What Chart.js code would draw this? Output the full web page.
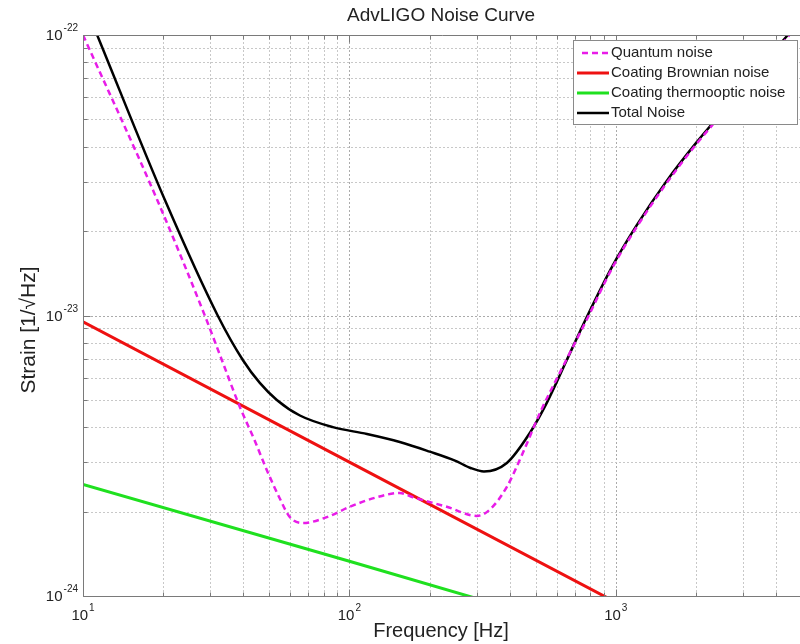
<!DOCTYPE html>
<html>
<head>
<meta charset="utf-8">
<title>AdvLIGO Noise Curve</title>
<script src="https://cdn.jsdelivr.net/npm/chart.js@4"></script>
<style>
  html, body { margin: 0; padding: 0; background: #fff; overflow: hidden; }
  #wrap { width: 810px; height: 644px; }
</style>
</head>
<body>
<div id="wrap"><canvas id="noise" width="810" height="644"></canvas></div>
<script>
// ---- Noise budget data (frequency in Hz, amplitude spectral density in 1/sqrt(Hz)) ----
const quantumFreq = [10, 19, 28.7, 33.2, 38.8, 44, 49.0, 54.5, 59.8, 66.9, 82.3, 100.4, 126.8, 154.6, 173, 232, 301, 336, 390, 448, 518.6, 632, 778.5, 974.6, 1199, 1553, 2013, 2350, 3184, 4381, 5000];
const quantumNoise = [1.0e-22, 2.58e-23, 9.96e-24, 6.94e-24, 4.72e-24, 3.6e-24, 2.81e-24, 2.25e-24, 1.91e-24, 1.82e-24, 1.91e-24, 2.08e-24, 2.25e-24, 2.33e-24, 2.25e-24, 2.08e-24, 1.93e-24, 2.03e-24, 2.45e-24, 3.24e-24, 4.49e-24, 6.55e-24, 9.68e-24, 1.49e-23, 2.07e-23, 2.97e-23, 4.1e-23, 4.88e-23, 6.84e-23, 9.74e-23, 1.13e-22];

const brownianFreq = [10, 100, 1000];
const brownianNoise = [9.5e-24, 3.0e-24, 0.95e-24];

const thermoFreq = [10, 100, 300];
const thermoNoise = [2.5e-24, 1.33e-24, 0.98e-24];

const totalFreq = [11.3, 20.3, 32.1, 39.8, 46.1, 53.4, 65.2, 86.7, 116.4, 154.6, 200.4, 249, 285, 320, 390, 475.6, 550.7, 654.8, 778.5, 974.6, 1199, 1553, 2013, 2350, 3184, 4381, 5000];
const totalNoise = [1.0e-22, 2.58e-23, 9.96e-24, 6.94e-24, 5.75e-24, 5.0e-24, 4.4e-24, 4.0e-24, 3.78e-24, 3.54e-24, 3.27e-24, 3.04e-24, 2.86e-24, 2.78e-24, 2.98e-24, 3.81e-24, 4.88e-24, 6.94e-24, 9.88e-24, 1.51e-23, 2.1e-23, 3.02e-23, 4.15e-23, 4.94e-23, 6.95e-23, 9.9e-23, 1.15e-22];

// ---- Axis ticks and labels ----
const freqTicks = [10, 20, 30, 40, 50, 60, 70, 80, 90, 100, 200, 300, 400, 500, 600, 700, 800, 900, 1000, 2000, 3000, 4000, 5000];
const freqMajor = [10, 100, 1000];
const freqLabelExps = ['1', '2', '3'];
const strainTicks = [1e-24, 2e-24, 3e-24, 4e-24, 5e-24, 6e-24, 7e-24, 8e-24, 9e-24,
                     1e-23, 2e-23, 3e-23, 4e-23, 5e-23, 6e-23, 7e-23, 8e-23, 9e-23, 1e-22];
const strainMajor = [1e-24, 1e-23, 1e-22];
const strainLabelExps = ['-24', '-23', '-22'];

const seriesNames = ['Quantum noise', 'Coating Brownian noise', 'Coating thermooptic noise', 'Total Noise'];
const titleText = 'AdvLIGO Noise Curve';
const xTitle = 'Frequency [Hz]';
const yTitle = 'Strain [1/\u221AHz]';

const toXY = (fs, vs) => fs.map((f, i) => ({ x: f, y: vs[i] }));

const FONT = '"Liberation Sans", Arial, Helvetica, sans-serif';
const TEXT = '#222';

// power-of-ten label: "10" with a raised exponent
function drawPow(ctx, exp, x, y, align) {
  ctx.font = '15px ' + FONT;
  const wb = ctx.measureText('10').width;
  ctx.font = '10px ' + FONT;
  const we = ctx.measureText(exp).width;
  const total = wb + 1 + we;
  let left = x;
  if (align === 'center') left = x - total / 2;
  else if (align === 'right') left = x - total;
  ctx.textAlign = 'left';
  ctx.textBaseline = 'alphabetic';
  ctx.fillStyle = TEXT;
  ctx.font = '15px ' + FONT;
  ctx.fillText('10', left, y);
  ctx.font = '10px ' + FONT;
  ctx.fillText(exp, left + wb + 1, y - 9);
}

const framePlugin = {
  id: 'frame',
  beforeDatasetsDraw(chart) {
    const { ctx, chartArea: a, scales: { x, y } } = chart;
    ctx.save();
    ctx.lineWidth = 1;
    ctx.setLineDash([2, 2]);
    freqTicks.forEach(v => {
      const px = Math.round(x.getPixelForValue(v)) + 0.5;
      ctx.strokeStyle = freqMajor.includes(v) ? '#ababab' : '#c8c8c8';
      ctx.beginPath(); ctx.moveTo(px, a.bottom); ctx.lineTo(px, a.top); ctx.stroke();
    });
    strainTicks.forEach(v => {
      const py = Math.round(y.getPixelForValue(v)) + 0.5;
      ctx.strokeStyle = strainMajor.includes(v) ? '#ababab' : '#c8c8c8';
      ctx.beginPath(); ctx.moveTo(a.left, py); ctx.lineTo(a.right, py); ctx.stroke();
    });
    ctx.restore();
  },
  afterDatasetsDraw(chart) {
    const { ctx, chartArea: a, scales: { x, y } } = chart;
    ctx.save();
    ctx.setLineDash([]);
    ctx.strokeStyle = '#7a7a7a';
    ctx.lineWidth = 1;
    // axis box (left, bottom, top)
    const L = Math.round(a.left) + 0.5, B = Math.round(a.bottom) + 0.5, T = Math.round(a.top) + 0.5;
    ctx.beginPath();
    ctx.moveTo(L, T); ctx.lineTo(L, B); ctx.lineTo(a.right, B);
    ctx.moveTo(L, T); ctx.lineTo(a.right, T);
    ctx.stroke();
    // inward tick marks
    ctx.beginPath();
    freqTicks.forEach(v => {
      const px = Math.round(x.getPixelForValue(v)) + 0.5;
      const len = freqMajor.includes(v) ? 7 : 4;
      ctx.moveTo(px, B); ctx.lineTo(px, B - len);
      ctx.moveTo(px, T); ctx.lineTo(px, T + len);
    });
    strainTicks.forEach(v => {
      const py = Math.round(y.getPixelForValue(v)) + 0.5;
      const len = strainMajor.includes(v) ? 7 : 4;
      ctx.moveTo(L, py); ctx.lineTo(L + len, py);
    });
    ctx.stroke();

    // tick labels
    freqMajor.forEach((v, i) => drawPow(ctx, freqLabelExps[i], x.getPixelForValue(v), 620, 'center'));
    strainMajor.forEach((v, i) => drawPow(ctx, strainLabelExps[i], 78, y.getPixelForValue(v) + 5, 'right'));

    // title and axis titles
    ctx.fillStyle = TEXT;
    ctx.textAlign = 'center';
    ctx.textBaseline = 'middle';
    ctx.font = '19px ' + FONT;
    ctx.fillText(titleText, 441, 16);
    ctx.font = '20px ' + FONT;
    ctx.fillText(xTitle, 441, 631);
    ctx.save();
    ctx.translate(29, 330);
    ctx.rotate(-Math.PI / 2);
    ctx.font = '21px ' + FONT;
    ctx.fillText(yTitle, 0, 0);
    ctx.restore();

    // legend box
    const lx = 573, ly = 40, lw = 224, lh = 84;
    ctx.fillStyle = '#fff';
    ctx.fillRect(lx, ly, lw, lh);
    ctx.strokeStyle = '#8a8a8a';
    ctx.lineWidth = 1;
    ctx.strokeRect(lx + 0.5, ly + 0.5, lw, lh);
    ctx.font = '15px ' + FONT;
    ctx.textAlign = 'left';
    ctx.textBaseline = 'middle';
    chart.data.datasets.forEach((ds, i) => {
      const cy = 53 + i * 20;
      ctx.strokeStyle = ds.borderColor;
      ctx.lineWidth = ds.borderWidth;
      ctx.setLineDash(ds.borderDash || []);
      ctx.beginPath();
      ctx.moveTo(ds.borderDash ? 582 : 577, cy);
      ctx.lineTo(609, cy);
      ctx.stroke();
      ctx.setLineDash([]);
      ctx.fillStyle = TEXT;
      ctx.fillText(ds.label, 611, cy);
    });
    ctx.restore();
  }
};

new Chart(document.getElementById('noise'), {
  type: 'line',
  data: {
    datasets: [
      { label: seriesNames[0], data: toXY(quantumFreq, quantumNoise), borderColor: '#e81ce8', borderWidth: 2.5,
        borderDash: [6, 4], cubicInterpolationMode: 'monotone', pointRadius: 0, fill: false },
      { label: seriesNames[1], data: toXY(brownianFreq, brownianNoise), borderColor: '#ee1111', borderWidth: 3,
        tension: 0, pointRadius: 0, fill: false },
      { label: seriesNames[2], data: toXY(thermoFreq, thermoNoise), borderColor: '#1fe01f', borderWidth: 3,
        tension: 0, pointRadius: 0, fill: false },
      { label: seriesNames[3], data: toXY(totalFreq, totalNoise), borderColor: '#000000', borderWidth: 2.5,
        cubicInterpolationMode: 'monotone', pointRadius: 0, fill: false }
    ]
  },
  options: {
    responsive: false,
    animation: false,
    layout: { padding: { left: 83, top: 35, right: 8, bottom: 48 } },
    plugins: { legend: { display: false }, title: { display: false }, tooltip: { enabled: false } },
    scales: {
      x: { type: 'logarithmic', min: 10, max: 5000, display: false },
      y: { type: 'logarithmic', min: 1e-24, max: 1e-22, display: false }
    }
  },
  plugins: [framePlugin]
});
</script>
</body>
</html>
